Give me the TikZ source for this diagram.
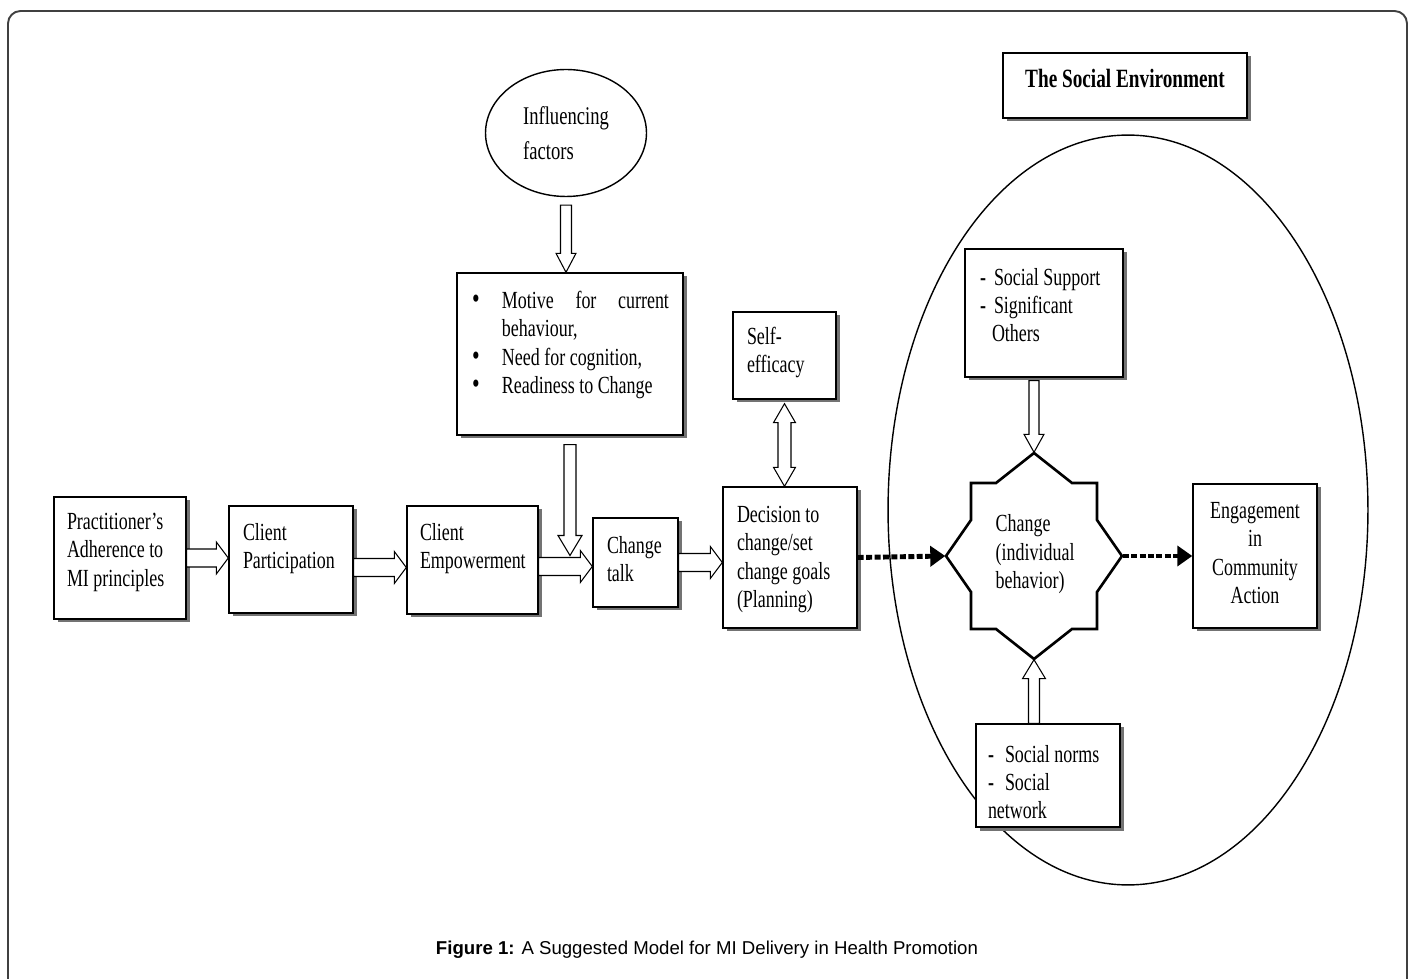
\documentclass[tikz,border=0pt]{standalone}
\usepackage{fontspec}
\setmainfont{Liberation Serif}[FakeStretch=0.73]
\newfontfamily\capfont{Liberation Sans}
\usetikzlibrary{arrows.meta, positioning, shapes.geometric, calc, fit, shadows}
\tikzset{
  every picture/.style={line width=0.8pt},
  box/.style={draw, fill=white, inner sep=0pt, drop shadow={shadow xshift=0.07cm, shadow yshift=-0.07cm, fill=black!55, opacity=1}},
  txt/.style={anchor=north west, align=left, inner sep=0pt, font=\fontsize{14}{16.2}\selectfont},
  oval/.style={draw, ellipse, inner sep=0pt},
  harrow/.style={draw, fill=white, line width=0.6pt},
  dots/.style={-{Triangle[length=0.3cm, width=0.4cm]}, line width=2.8pt, dash pattern=on 3.4pt off 1.4pt},
}
% hollow block arrow: start, tip, shaft half width, head half width, head length
\newcommand{\hollowarrow}[5]{%
  \coordinate (hb) at ($(#2)!#5!(#1)$);
  \draw[harrow] ($(#1)!#3!90:(#2)$) -- ($(hb)!#3!90:(#2)$) -- ($(hb)!#4!90:(#2)$) -- (#2)
    -- ($(hb)!#4!-90:(#2)$) -- ($(hb)!#3!-90:(#2)$) -- ($(#1)!#3!-90:(#2)$) -- cycle;
}
\newcommand{\hollowdouble}[5]{%
  \coordinate (hb1) at ($(#1)!#5!(#2)$);
  \coordinate (hb2) at ($(#2)!#5!(#1)$);
  \draw[harrow] (#1) -- ($(hb1)!#4!90:(#2)$) -- ($(hb1)!#3!90:(#2)$) -- ($(hb2)!#3!90:(#2)$)
    -- ($(hb2)!#4!90:(#2)$) -- (#2) -- ($(hb2)!#4!-90:(#2)$) -- ($(hb2)!#3!-90:(#2)$)
    -- ($(hb1)!#3!-90:(#2)$) -- ($(hb1)!#4!-90:(#2)$) -- cycle;
}
\newcommand{\bul}{\makebox[0.6cm][l]{\smash{\fontsize{17}{16}\selectfont\textbullet}}}
\newcommand{\dash}[1]{\makebox[#1][l]{\textbf{-}}}

\begin{document}
\begin{tikzpicture}[x=0.02cm, y=-0.02cm]
  \useasboundingbox (0,0) rectangle (1414,979);
  \draw[black!75, line width=1.1pt, rounded corners=0.25cm] (8,1000) -- (8,11) -- (1407,11) -- (1407,1000);

  % social environment
  \node[oval, minimum width=9.6cm, minimum height=15cm] (env) at (1128,510) {};
  \node[box, fit={(1003,53) (1247,118)}] (title) {};
  \node[font=\fontsize{15}{17}\selectfont\bfseries, anchor=north, inner sep=0pt] at ([shift={(0,16)}]title.north) {The Social Environment};

  % main chain
  \node[box, fit={(54,497) (186,619)}] (prac) {};
  \node[txt] at ([shift={(13,16)}]prac.north west) {Practitioner’s\\Adherence to\\MI principles};
  \node[box, fit={(229,506) (353,613)}] (part) {};
  \node[txt] at ([shift={(14,17)}]part.north west) {Client\\Participation};
  \node[box, fit={(407,506) (538,614)}] (emp) {};
  \node[txt] at ([shift={(13,17)}]emp.north west) {Client\\Empowerment};
  \node[box, fit={(593,518) (678,607)}] (talk) {};
  \node[txt] at ([shift={(14,18)}]talk.north west) {Change\\talk};
  \node[box, fit={(723,487) (857,628)}] (dec) {};
  \node[txt] at ([shift={(14,19)}]dec.north west) {Decision to\\change/set\\change goals\\(Planning)};
  \node[box, fit={(733,312) (836,399)}] (self) {};
  \node[txt] at ([shift={(14,15)}]self.north west) {Self-\\efficacy};

  % influencing factors
  \node[oval, minimum width=3.22cm, minimum height=2.54cm, align=left, font=\fontsize{14.5}{19.8}\selectfont] (fac) at (566,133) {Influencing\\factors};
  \node[box, fit={(457,273) (683,435)}] (infl) {};
  \node[txt] at ([shift={(15,18)}]infl.north west) {\bul\makebox[3.34cm][s]{Motive for current}\\
    \hspace*{0.6cm}behaviour,\\
    \bul Need for cognition,\\
    \bul Readiness to Change};

  % change and its surroundings
  \node[fit={(946,453) (1122,659)}, inner sep=0pt] (chg) {};
  \draw[line width=1.5pt, fill=white, shift={(chg.center)}] (0,-103) -- (38,-73) -- (63,-73) -- (63,-36) -- (88,0)
    -- (63,36) -- (63,73) -- (38,73) -- (0,103) -- (-38,73) -- (-63,73) -- (-63,36) -- (-88,0)
    -- (-63,-36) -- (-63,-73) -- (-38,-73) -- cycle;
  \node[txt] at ([shift={(-39,-42)}]chg.center) {Change\\(individual\\behavior)};
  \node[box, fit={(965,249) (1123,377)}] (sup) {};
  \node[txt] at ([shift={(15,19)}]sup.north west) {\dash{0.28cm}Social Support\\
    \dash{0.28cm}Significant\\
    \hspace*{0.24cm}Others};
  \node[box, fit={(976,724) (1120,827)}] (norms) {};
  \node[txt] at ([shift={(12,21)}]norms.north west) {\dash{0.34cm}Social norms\\
    \dash{0.34cm}Social\\
    network};
  \node[box, fit={(1193,484) (1317,628)}] (eng) {};
  \node[txt, anchor=north, align=center] at ([shift={(0,18)}]eng.north) {Engagement\\in\\Community\\Action};

  % block arrows
  \coordinate (a1) at (prac.east);
  \coordinate (a2) at ([yshift=-0.16cm]part.east);
  \coordinate (a3) at ([yshift=-0.13cm]emp.east);
  \coordinate (a4) at (talk.east);
  \hollowarrow{a1}{a1 -| part.west}{0.18cm}{0.32cm}{0.24cm}
  \hollowarrow{a2}{a2 -| emp.west}{0.18cm}{0.32cm}{0.24cm}
  \hollowarrow{a3}{a3 -| talk.west}{0.18cm}{0.32cm}{0.24cm}
  \hollowarrow{a4}{a4 -| dec.west}{0.18cm}{0.32cm}{0.24cm}
  \coordinate (f1) at ([yshift=-0.16cm]fac.south);
  \hollowarrow{f1}{f1 |- infl.north}{0.11cm}{0.2cm}{0.38cm}
  \coordinate (i1) at ([yshift=-0.18cm]infl.south);
  \coordinate (i2) at ($(i1 |- a3)+(0,-11)$);
  \hollowarrow{i1}{i2}{0.12cm}{0.24cm}{0.4cm}
  \coordinate (s1) at ([yshift=-0.08cm]self.south);
  \hollowdouble{s1}{s1 |- dec.north}{0.13cm}{0.22cm}{0.38cm}
  \coordinate (g1) at ([yshift=-0.06cm]chg.north |- sup.south);
  \hollowarrow{g1}{chg.north}{0.1cm}{0.2cm}{0.36cm}
  \coordinate (n1) at (chg.south |- norms.north);
  \hollowarrow{n1}{chg.south}{0.11cm}{0.23cm}{0.38cm}

  % dotted arrows
  \draw[dots] (dec.east) -- (chg.west);
  \draw[dots] (chg.east) -- (eng.west);

  \node[font=\capfont\fontsize{10.6}{12}\selectfont] (cap) at (707,950) {\textbf{Figure 1:} A Suggested Model for MI Delivery in Health Promotion};
\end{tikzpicture}
\end{document}
